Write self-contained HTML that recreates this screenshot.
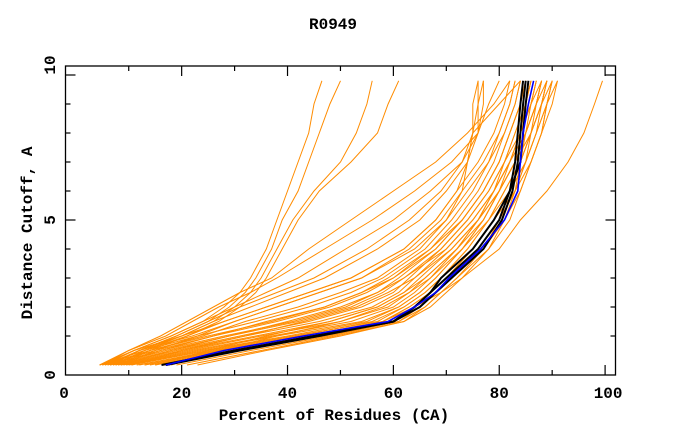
<!DOCTYPE html>
<html><head><meta charset="utf-8"><style>
html,body{margin:0;padding:0;background:#fff;}
svg{display:block;}
text{font-family:"Liberation Mono",monospace;font-weight:bold;font-size:16px;fill:#000;}
</style></head><body>
<svg id="chart" width="680" height="440" xmlns="http://www.w3.org/2000/svg">
<rect width="680" height="440" fill="#fff"/>
<text x="333" y="29" text-anchor="middle">R0949</text>
<text x="334" y="420" text-anchor="middle">Percent of Residues (CA)</text>
<text transform="translate(32,233) rotate(-90)" text-anchor="middle">Distance Cutoff, A</text>
<g id="plot"></g>
<g id="axes"></g>
</svg>
<script>
const yLevels=[0,0.5,1,1.5,2,2.5,3,4,5,6,7,8,9,9.8];
const orangeSeries=[
[4.5,13,23,34,44,52,58,66,71,75,78,80,82,83],
[5.5,15,26,38,48,55,60,67,72,76,79,81,83,84],
[6.5,17,29,42,52,58,62,69,74,78,81,83,85,86],
[7.5,19,32,46,56,61,64,70,75,79,82,84,86,87],
[8.5,21,35,50,59,63,66,72,77,80,83,85,87,88],
[9.5,23,38,54,61,65,68,73,78,81,84,86,88,89],
[10.5,25,41,57,62,66,69,74,78,82,85,87,89,90],
[11.5,27,44,58,63,67,70,75,79,83,86,88,90,91],
[13,28,45,59,64,67,70,76,80,83,85,87,89,90],
[14,29,46,60,65,68,71,77,81,84,86,88,89,90],
[17,31,47,61,65,68,71,76,80,82,84,86,87,88],
[19,33,48,61,66,69,72,78,82,84,86,88,89,91],
[21,35,49,62,66,69,72,77,80,83,85,86,88,89],
[23,36,50,62,67,70,73,78,81,83,84,85,86,87],
[5,14,25,37,47,54,59,67,73,77,80,82,84,85],
[6,16,28,41,51,57,61,68,73,77,80,82,84,85],
[7,18,31,44,54,60,63,69,74,78,81,84,86,88],
[8,20,34,48,57,62,65,71,76,80,83,85,87,89],
[9,22,37,52,60,64,67,72,76,79,82,85,87,88],
[10,24,40,55,61,65,68,73,77,80,83,86,88,90],
[12,26,42,56,62,66,69,74,78,81,84,86,88,89],
[15,30,45,58,63,67,70,75,79,82,85,87,88,89],
[4.5,11,20,28,36,44,52,62,68,72,76,79,81,82],
[5.5,12,22,30,38,46,54,63,69,73,77,80,82,83],
[6.5,14,24,32,42,50,57,65,70,74,78,81,83,84],
[7.5,16,26,36,47,54,60,68,73,77,80,82,84,85],
[8.5,18,29,40,50,57,62,70,75,79,82,84,86,87],
[10.5,20,32,43,53,59,64,71,76,80,83,85,87,88],
[15,25,36,48,57,62,66,72,76,79,81,83,85,86],
[18,27,38,50,58,63,67,73,77,80,82,84,85,86],
[4.5,10,17,22,27,33,38,47,56,64,71,76,78,80],
[5.5,11,18,24,30,36,42,51,60,67,73,76,77,77],
[6.5,12,20,26,33,40,47,57,65,70,74,76,76,77],
[7.5,13,21,28,36,44,52,62,68,72,74,75,76,76],
[5,10,16,21,26,31,37,44,52,60,68,74,79,82],
[6.5,12,19,25,31,38,45,55,63,69,73,75,80,84],
[8.5,15,23,30,38,46,54,64,70,73,74,75,75,76],
[5,11,18,24,28,31,33,36,38,40,42,44,45,46.5],
[6,12,19,25,29,32,34,37,39,42,44,46,48,50],
[7,13,20,26,30,33,35,38,41,45,50,53,55,56],
[8,14,21,27,31,34,36,39,42,46,52,57,59,61],
[13,27,43,58,64,69,73,80,84,89,93,96,98,99.5]
];
const blueSeries=[17,28,43,59,64,68,70.5,76.5,81,83.5,84,84.5,85.5,86.5];
const blackSeries=[
[16.2,30,45,60,64,67,69,75,79,82,83,83.5,84,84.5],
[17,31,46,60,65,68,71,77,80.5,82.5,83.5,84,84.5,85],
[17,30,45,60,64,67,70,76,80,82,84,84.5,85,85.5]
];
const xTicks=[10,20,30,40,50,60,70,80,90,100];
const xTickLabels=["0","20","40","60","80","100"];
const yTicks=[1,2,3,4,5,6,7,8,9,10];

const NS="http://www.w3.org/2000/svg";
const X=v=>75.8+5.293*v;
const Y=v=>365-29*v;
const plot=document.getElementById('plot');
const axes=document.getElementById('axes');
function line(xs,color,w,name){
  const p=document.createElementNS(NS,'polyline');
  p.setAttribute('points',xs.map((x,i)=>X(x).toFixed(1)+','+Y(yLevels[i]).toFixed(1)).join(' '));
  p.setAttribute('fill','none');p.setAttribute('stroke',color);p.setAttribute('stroke-width',w);
  
  
  plot.appendChild(p);
}
orangeSeries.forEach((s,i)=>line(s,'#ff8c00',1,'model-line-'+(i+1)));
blackSeries.forEach((s,i)=>line(s,'#000',2,'reference-line-'+(i+1)));
line(blueSeries,'#0000ff',1.6,'highlight-line');

const L=65.5,R=615.5,T=66,B=375;
function seg(x1,y1,x2,y2,name){
  const l=document.createElementNS(NS,'line');
  l.setAttribute('x1',x1);l.setAttribute('y1',y1);l.setAttribute('x2',x2);l.setAttribute('y2',y2);
  l.setAttribute('stroke','#000');l.setAttribute('stroke-width',1.2);
  
  
  axes.appendChild(l);
}
const box=document.createElementNS(NS,'rect');
box.setAttribute('x',L);box.setAttribute('y',T);box.setAttribute('width',R-L);box.setAttribute('height',B-T);
box.setAttribute('fill','none');box.setAttribute('stroke','#000');box.setAttribute('stroke-width',1.3);


axes.appendChild(box);
xTicks.forEach(v=>{const len=v%20===0?10:5;const x=X(v);
  seg(x,B,x,B-len,'x-tick');seg(x,T,x,T+len,'x-tick-top');});
yTicks.forEach(v=>{const len=v%5===0?10:5;const y=Y(v);
  seg(L,y,L+len,y,'y-tick');seg(R,y,R-len,y,'y-tick-right');});
function txt(s,x,y,anchor,name,rot){
  const t=document.createElementNS(NS,'text');
  t.textContent=s;t.setAttribute('text-anchor',anchor);
  if(rot){t.setAttribute('transform','translate('+x+','+y+') rotate(-90)');}
  else{t.setAttribute('x',x);t.setAttribute('y',y);}
  
  
  axes.appendChild(t);
}
xTickLabels.forEach((s,i)=>{const v=i*20;const x=v===0?64:X(v)+(v===100?3:0);txt(s,x,398,'middle','x-tick-label');});
txt('10',55,65,'middle','y-tick-label',true);
txt('5',55,220,'middle','y-tick-label',true);
txt('0',55,375,'middle','y-tick-label',true);
</script>
</body></html>
